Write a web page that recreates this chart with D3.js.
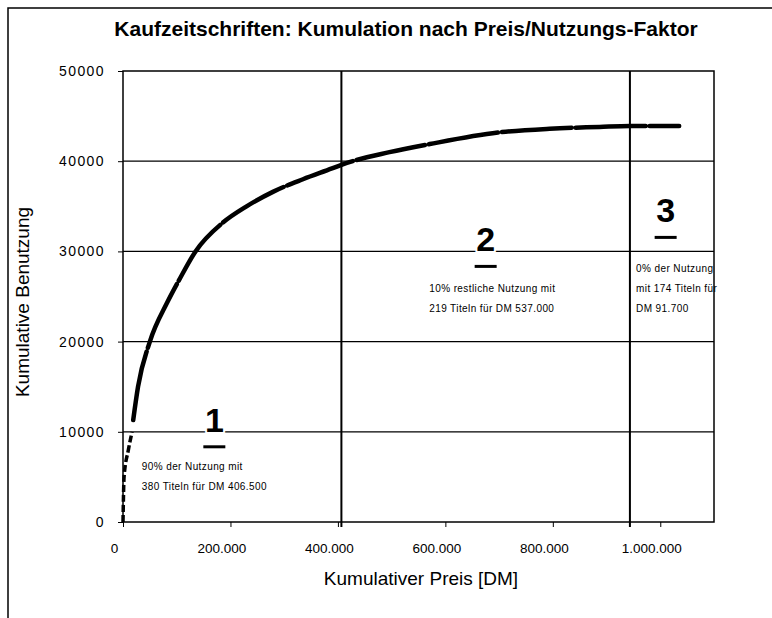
<!DOCTYPE html>
<html>
<head>
<meta charset="utf-8">
<script src="https://cdnjs.cloudflare.com/ajax/libs/d3/7.8.5/d3.min.js"></script>
<style>
  body { margin: 0; background: #fff; }
  text { font-family: "Liberation Sans", Arial, sans-serif; fill: #000; }
</style>
</head>
<body>
<script>
const width = 772;
const height = 618;

// Daten
const xTicks = [0, 200000, 400000, 600000, 800000, 1000000];
const yTicks = [0, 10000, 20000, 30000, 40000, 50000];
const preis = [0, 2000, 10000, 17000, 19000, 28000, 50000, 82000, 106000, 135000, 186000, 230000,
  279000, 335000, 389000, 406500, 496000, 571000, 701000, 794000, 887000, 943500, 1035200];
const nutzung = [0, 5000, 8000, 10000, 11300, 15000, 20000, 24300, 27000, 30000, 33200, 35000,
  36600, 38000, 39200, 39600, 41000, 41900, 43200, 43600, 43800, 43900, 43900];
const grenzen = [406500, 943500];
const zonenNr = ['1', '2', '3'];
const zonenText = [
  ['90% der Nutzung mit', '380 Titeln für DM 406.500'],
  ['10% restliche Nutzung mit', '219 Titeln für DM 537.000'],
  ['0% der Nutzung', 'mit 174 Titeln für', 'DM 91.700']
];

const de = d3.formatLocale({ decimal: ',', thousands: '.', grouping: [3], currency: ['', ' DM'] });
const fmt = de.format(',d');

const svg = d3.select('body')
  .append('svg')
  .attr('width', width)
  .attr('height', height);

// Rahmen (nur links und oben sichtbar)
svg.append('path')
  .attr('d', 'M8,618V8H772')
  .attr('fill', 'none')
  .attr('stroke', '#000')
  .attr('stroke-width', 1.5);

const x = d3.scaleLinear().domain([0, 1100000]).range([123, 714]);
const y = d3.scaleLinear().domain([0, 50000]).range([522, 71]);

// Gitterlinien
svg.append('g')
  .selectAll('line')
  .data(yTicks.slice(1, -1))
  .enter()
  .append('line')
  .attr('x1', x(0))
  .attr('x2', x(1100000))
  .attr('y1', d => y(d))
  .attr('y2', d => y(d))
  .attr('stroke', '#000')
  .attr('stroke-width', 1.3);

// Achsen
const xAxis = d3.axisBottom(x)
  .tickValues(xTicks)
  .tickSize(5)
  .tickPadding(16)
  .tickFormat(fmt);

const gx = svg.append('g')
  .attr('transform', `translate(0,${y(0)})`)
  .call(xAxis);
gx.select('.domain').remove();
gx.selectAll('text')
  .attr('dx', -9)
  .style('font-size', '13.5px');

const yAxis = d3.axisLeft(y)
  .tickValues(yTicks)
  .tickSize(5)
  .tickPadding(13)
  .tickFormat(d => d);

const gy = svg.append('g')
  .attr('transform', `translate(${x(0)},0)`)
  .call(yAxis);
gy.select('.domain').remove();
gy.selectAll('text')
  .style('font-size', '14px')
  .style('letter-spacing', '1.4px');

// Plotrahmen
svg.append('rect')
  .attr('x', x(0))
  .attr('y', y(50000))
  .attr('width', x(1100000) - x(0))
  .attr('height', y(0) - y(50000))
  .attr('fill', 'none')
  .attr('stroke', '#000')
  .attr('stroke-width', 1.5);

// Zonengrenzen
svg.append('g')
  .selectAll('line')
  .data(grenzen)
  .enter()
  .append('line')
  .attr('x1', d => x(d))
  .attr('x2', d => x(d))
  .attr('y1', y(50000))
  .attr('y2', y(0) + 5)
  .attr('stroke', '#000')
  .attr('stroke-width', 2);

// Kurve
const punkte = preis.map((p, i) => [p, nutzung[i]]);
const line = d3.line()
  .x(d => x(d[0]))
  .y(d => y(d[1]))
  .curve(d3.curveMonotoneX);

svg.append('path')
  .datum(punkte.slice(0, 4))
  .attr('d', line)
  .attr('fill', 'none')
  .attr('stroke', '#000')
  .attr('stroke-width', 3.5)
  .attr('stroke-dasharray', '7,3');

svg.append('path')
  .datum(punkte.slice(4))
  .attr('d', line)
  .attr('fill', 'none')
  .attr('stroke', '#000')
  .attr('stroke-width', 4.5)
  .attr('stroke-linecap', 'round')
  .attr('stroke-dasharray', '70,4');

// Zonenbeschriftung
const zonen = [
  { nx: x(170000), ny: y(10000), tx: x(35000), ty: y(10000) + 38 },
  { nx: x(675000), ny: y(30000), tx: x(570000), ty: y(30000) + 41 },
  { nx: x(1010000), ny: y(30000) - 29, tx: x(955000), ty: y(30000) + 21 }
];

zonen.forEach((z, i) => {
  svg.append('text')
    .attr('x', z.nx)
    .attr('y', z.ny)
    .attr('text-anchor', 'middle')
    .style('font-size', '34px')
    .style('font-weight', 'bold')
    .style('paint-order', 'stroke')
    .style('stroke', '#fff')
    .style('stroke-width', 4)
    .text(zonenNr[i]);

  svg.append('line')
    .attr('x1', z.nx - 11)
    .attr('x2', z.nx + 11)
    .attr('y1', z.ny + 15)
    .attr('y2', z.ny + 15)
    .attr('stroke', '#000')
    .attr('stroke-width', 3);

  svg.append('g')
    .selectAll('text')
    .data(zonenText[i])
    .enter()
    .append('text')
    .attr('x', z.tx)
    .attr('y', (d, j) => z.ty + j * 20)
    .style('font-size', '10px')
    .style('letter-spacing', '0.4px')
    .text(d => d);
});

// Titel
svg.append('text')
  .attr('x', 406)
  .attr('y', 36)
  .attr('text-anchor', 'middle')
  .style('font-size', '21px')
  .style('font-weight', 'bold')
  .text('Kaufzeitschriften: Kumulation nach Preis/Nutzungs-Faktor');

svg.append('text')
  .attr('x', 421)
  .attr('y', 585)
  .attr('text-anchor', 'middle')
  .style('font-size', '19px')
  .text('Kumulativer Preis [DM]');

svg.append('text')
  .attr('transform', 'translate(29,302) rotate(-90)')
  .attr('text-anchor', 'middle')
  .style('font-size', '19px')
  .text('Kumulative Benutzung');
</script>
</body>
</html>
